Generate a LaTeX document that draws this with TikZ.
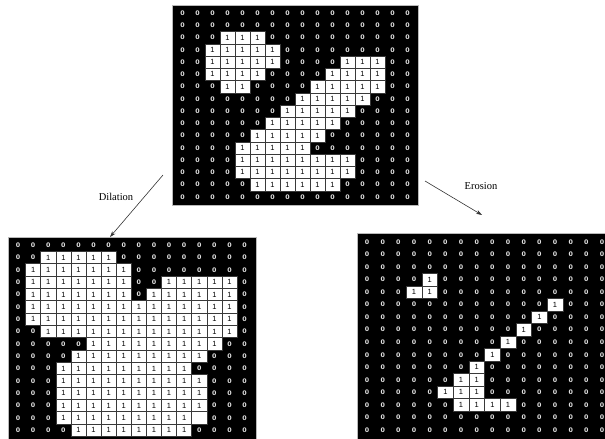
\documentclass[tikz,border=0pt]{standalone}
\usepackage{fontspec}
\setmainfont{Liberation Serif}
\newfontfamily\digitfont{Liberation Sans}
\newfontfamily\zerofont{DejaVu Sans}
\usetikzlibrary{arrows.meta}
\tikzset{
  gridbg/.style={fill=black, draw=gray!55, line width=0.6pt, inner sep=0pt, anchor=north west},
  zerocell/.style={text=white!88!black, inner sep=0pt, font=\zerofont\bfseries\fontsize{6.3}{6.3}\selectfont},
  onecell/.style={fill=white, draw=gray!45!black, line width=0.5pt, inner sep=0pt, text=black,
    font=\digitfont\fontsize{7.5}{7.5}\selectfont},
  blankcell/.style={fill=white, draw=gray!45!black, line width=0.5pt, inner sep=0pt},
  oparrow/.style={draw=black!80, line width=0.6pt, -{Stealth[length=6pt,width=4pt]}},
  oplabel/.style={font=\fontsize{10.5}{12}\selectfont, inner sep=1pt}
}
\newcommand\drawgrid[6]{%
  \foreach \rowlist [count=\ri from 0] in {#6} {
    \foreach \v [count=\ci from 0] in \rowlist {
      \pgfmathsetmacro\cx{#2+(\ci+0.5)*#4}
      \pgfmathsetmacro\cy{#3+(\ri+0.5)*#5}
      \ifnum\v=1
        \node[onecell, minimum width=#4pt, minimum height=#5pt] (#1-\ri-\ci) at (\cx,\cy) {1};
      \else\ifnum\v=2
        \node[blankcell, minimum width=#4pt, minimum height=#5pt] (#1-\ri-\ci) at (\cx,\cy) {};
      \else
        \node[zerocell] (#1-\ri-\ci) at (\cx,\cy) {0};
      \fi\fi
    }
  }
}
\begin{document}
\begin{tikzpicture}[x=1pt,y=-1pt]
\useasboundingbox (0,0) rectangle (605,439);
\clip (0,0) rectangle (605,439);
% backgrounds
\node[gridbg, minimum width=246pt, minimum height=200pt] (gridA) at (172,5) {};
\node[gridbg, minimum width=248pt, minimum height=206pt] (gridD) at (8,237) {};
\node[gridbg, minimum width=256pt, minimum height=210pt] (gridE) at (357,233) {};
% original image
\drawgrid{A}{175}{7}{15}{12.25}{
{0,0,0,0,0,0,0,0,0,0,0,0,0,0,0,0},
{0,0,0,0,0,0,0,0,0,0,0,0,0,0,0,0},
{0,0,0,1,1,1,0,0,0,0,0,0,0,0,0,0},
{0,0,1,1,1,1,1,0,0,0,0,0,0,0,0,0},
{0,0,1,1,1,1,1,0,0,0,0,1,1,1,0,0},
{0,0,1,1,1,1,0,0,0,0,1,1,1,1,0,0},
{0,0,0,1,1,0,0,0,0,1,1,1,1,1,0,0},
{0,0,0,0,0,0,0,0,1,1,1,1,1,0,0,0},
{0,0,0,0,0,0,0,1,1,1,1,1,0,0,0,0},
{0,0,0,0,0,0,1,1,1,1,1,0,0,0,0,0},
{0,0,0,0,0,1,1,1,1,1,0,0,0,0,0,0},
{0,0,0,0,1,1,1,1,1,0,0,0,0,0,0,0},
{0,0,0,0,1,1,1,1,1,1,1,1,0,0,0,0},
{0,0,0,0,1,1,1,1,1,1,1,1,0,0,0,0},
{0,0,0,0,0,1,1,1,1,1,1,0,0,0,0,0},
{0,0,0,0,0,0,0,0,0,0,0,0,0,0,0,0}}
% dilation
\drawgrid{D}{10.5}{239}{15.1}{12.33}{
{0,0,0,0,0,0,0,0,0,0,0,0,0,0,0,0},
{0,0,1,1,1,1,1,0,0,0,0,0,0,0,0,0},
{0,1,1,1,1,1,1,1,0,0,0,0,0,0,0,0},
{0,1,1,1,1,1,1,1,0,0,1,1,1,1,1,0},
{0,1,1,1,1,1,1,1,0,1,1,1,1,1,1,0},
{0,1,1,1,1,1,1,1,1,1,1,1,1,1,1,0},
{0,1,1,1,1,1,1,1,1,1,1,1,1,1,1,0},
{0,0,1,1,1,1,1,1,1,1,1,1,1,1,1,0},
{0,0,0,0,0,1,1,1,1,1,1,1,1,1,0,0},
{0,0,0,0,1,1,1,1,1,1,1,1,1,0,0,0},
{0,0,0,1,1,1,1,1,1,1,1,1,0,0,0,0},
{0,0,0,1,1,1,1,1,1,1,1,1,1,0,0,0},
{0,0,0,1,1,1,1,1,1,1,1,1,1,0,0,0},
{0,0,0,1,1,1,1,1,1,1,1,1,1,0,0,0},
{0,0,0,1,1,1,1,1,1,1,1,1,2,0,0,0},
{0,0,0,0,1,1,1,1,1,1,1,1,0,0,0,0}}
% erosion
\drawgrid{E}{359.2}{235.7}{15.67}{12.53}{
{0,0,0,0,0,0,0,0,0,0,0,0,0,0,0,0},
{0,0,0,0,0,0,0,0,0,0,0,0,0,0,0,0},
{0,0,0,0,0,0,0,0,0,0,0,0,0,0,0,0},
{0,0,0,0,1,0,0,0,0,0,0,0,0,0,0,0},
{0,0,0,1,1,0,0,0,0,0,0,0,0,0,0,0},
{0,0,0,0,0,0,0,0,0,0,0,0,1,0,0,0},
{0,0,0,0,0,0,0,0,0,0,0,1,0,0,0,0},
{0,0,0,0,0,0,0,0,0,0,1,0,0,0,0,0},
{0,0,0,0,0,0,0,0,0,1,0,0,0,0,0,0},
{0,0,0,0,0,0,0,0,1,0,0,0,0,0,0,0},
{0,0,0,0,0,0,0,1,0,0,0,0,0,0,0,0},
{0,0,0,0,0,0,1,1,0,0,0,0,0,0,0,0},
{0,0,0,0,0,1,1,1,0,0,0,0,0,0,0,0},
{0,0,0,0,0,0,1,1,1,1,0,0,0,0,0,0},
{0,0,0,0,0,0,0,0,0,0,0,0,0,0,0,0},
{0,0,0,0,0,0,0,0,0,0,0,0,0,0,0,0}}
% arrows and labels
\coordinate (dilS) at (163,175);
\coordinate (dilT) at (110,237);
\coordinate (eroS) at (425,181);
\coordinate (eroT) at (482,215);
\draw[oparrow] (dilS) -- (dilT);
\draw[oparrow] (eroS) -- (eroT);
\node[oplabel] (dilLabel) at (116,197) {Dilation};
\node[oplabel] (eroLabel) at (481,186) {Erosion};
\end{tikzpicture}
\end{document}
